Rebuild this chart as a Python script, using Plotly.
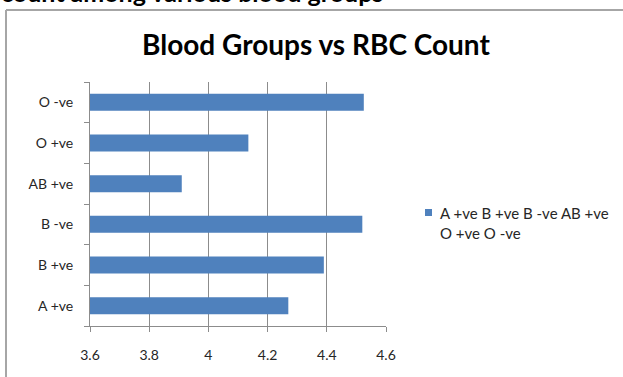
import plotly.graph_objects as go

# Blood groups (bottom to top) and their mean RBC count
groups = ["A +ve", "B +ve", "B -ve", "AB +ve", "O +ve", "O -ve"]
rbc_count = [4.27, 4.39, 4.52, 3.91, 4.135, 4.525]
x_ticks = [3.6, 3.8, 4.0, 4.2, 4.4, 4.6]
x_tick_text = ["3.6", "3.8", "4", "4.2", "4.4", "4.6"]

W, H = 623, 377
L, R, T, B = 90, 237, 82, 51
pw, ph = W - L - R, H - T - B


def px_x(p):
    return (p - L) / pw


def px_y(p):
    return (H - B - p) / ph


BAR = "#4F81BD"
GRID = "#8C8C8C"
TXT = "#262626"
FONT = "Lato"

fig = go.Figure()
fig.add_trace(go.Bar(
    x=rbc_count, y=groups, orientation="h",
    marker=dict(color=BAR, line=dict(width=0)),
    name="A +ve B +ve B -ve AB +ve O +ve O -ve",
    showlegend=False,
))

fig.update_layout(
    width=W, height=H,
    margin=dict(l=L, r=R, t=T, b=B, pad=0),
    paper_bgcolor="white", plot_bgcolor="white",
    bargap=0.58,
    font=dict(family=FONT, color=TXT, size=14),
    xaxis=dict(
        range=[3.6, 4.6], tickvals=x_ticks, ticktext=x_tick_text,
        showgrid=True, gridcolor=GRID, gridwidth=1,
        showline=True, linecolor=GRID, linewidth=1,
        ticks="outside", ticklen=5, tickcolor=GRID,
        ticklabelstandoff=11, zeroline=False,
        tickfont=dict(size=14, color=TXT),
    ),
    yaxis=dict(
        type="category", categoryorder="array", categoryarray=groups,
        range=[-0.5, len(groups) - 0.5],
        showgrid=False, showline=True, linecolor=GRID, linewidth=1,
        ticks="outside", ticklen=5, tickcolor=GRID, tickson="boundaries",
        ticklabelstandoff=13,
        tickfont=dict(size=14, color=TXT),
    ),
)

# Chart frame (left and top edges of the surrounding box)
fx = px_x(6)
fy = px_y(10)
fig.add_shape(type="line", xref="paper", yref="paper",
              x0=fx, x1=fx, y0=px_y(H + 5), y1=fy,
              line=dict(color="#A6A6A6", width=2))
fig.add_shape(type="line", xref="paper", yref="paper",
              x0=fx, x1=px_x(W + 5), y0=fy, y1=fy,
              line=dict(color="#A6A6A6", width=2))

# Heading above the chart box
fig.add_annotation(
    text="<b>count among various blood groups</b>",
    xref="paper", yref="paper", x=px_x(-1), y=px_y(9),
    xanchor="left", yanchor="bottom", showarrow=False,
    font=dict(family=FONT, size=25, color="black"),
)

# Chart title
fig.add_annotation(
    text="<b>Blood Groups vs RBC Count</b>",
    xref="paper", yref="paper", x=px_x(316), y=px_y(44),
    xanchor="center", yanchor="middle", showarrow=False,
    font=dict(family=FONT, size=28, color="black"),
)

# Legend key
fig.add_shape(type="rect", xref="paper", yref="paper",
              x0=px_x(425), x1=px_x(432), y0=px_y(216), y1=px_y(209),
              fillcolor=BAR, line=dict(width=0))
fig.add_annotation(
    text="A +ve B +ve B -ve AB +ve<br>O +ve O -ve",
    xref="paper", yref="paper", x=px_x(438), y=px_y(223),
    xanchor="left", yanchor="middle", align="left", showarrow=False,
    font=dict(family=FONT, size=15, color=TXT),
)

fig.write_html("out.html")
